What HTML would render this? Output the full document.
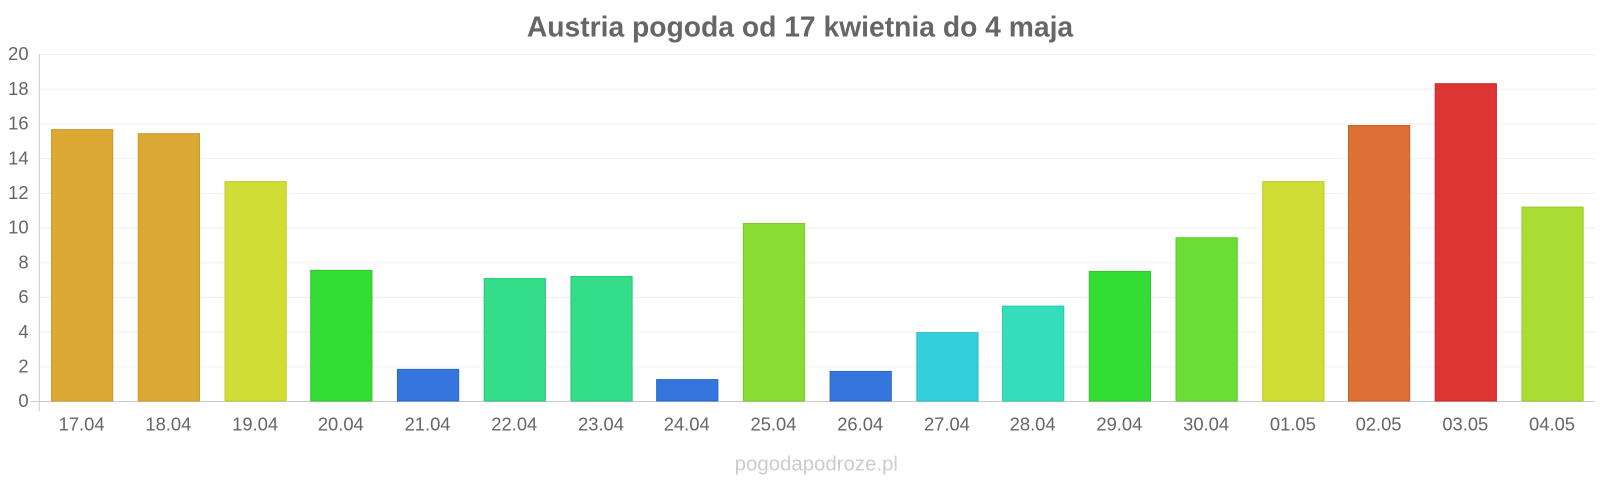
<!DOCTYPE html>
<html><head><meta charset="utf-8"><style>
body{margin:0;background:#fff;}
svg text{font-family:"Liberation Sans",sans-serif;}
</style></head><body>
<svg width="1600" height="480" xmlns="http://www.w3.org/2000/svg">
<rect width="1600" height="480" fill="#fff"/>
<g transform="scale(1.0204)">
<text x="784" y="36" text-anchor="middle" font-size="27.7" font-weight="bold" fill="#666">Austria pogoda od 17 kwietnia do 4 maja</text>
<g stroke="#f0f0f0" stroke-width="1">
<line x1="38" x2="1563" y1="53.5" y2="53.5"/>
<line x1="38" x2="1563" y1="87.5" y2="87.5"/>
<line x1="38" x2="1563" y1="121.5" y2="121.5"/>
<line x1="38" x2="1563" y1="155.5" y2="155.5"/>
<line x1="38" x2="1563" y1="189.5" y2="189.5"/>
<line x1="38" x2="1563" y1="223.5" y2="223.5"/>
<line x1="38" x2="1563" y1="257.5" y2="257.5"/>
<line x1="38" x2="1563" y1="291.5" y2="291.5"/>
<line x1="38" x2="1563" y1="325.5" y2="325.5"/>
<line x1="38" x2="1563" y1="359.5" y2="359.5"/>
</g>
<line x1="38.5" x2="38.5" y1="53" y2="403" stroke="#ccc"/>
<line x1="30" x2="1563" y1="393.5" y2="393.5" stroke="#ccc"/>
<g font-size="18" fill="#666" text-anchor="end">
<text x="28" y="59">20</text><text x="28" y="93">18</text><text x="28" y="127">16</text>
<text x="28" y="161">14</text><text x="28" y="195">12</text><text x="28" y="229">10</text>
<text x="28" y="263">8</text><text x="28" y="297">6</text><text x="28" y="331">4</text>
<text x="28" y="365">2</text><text x="28" y="399">0</text>
</g>
<g stroke-width="1">
<rect x="50.5" y="127" width="60" height="266" fill="#dca934" stroke="#c99a2c"/>
<rect x="135.5" y="131" width="60" height="262" fill="#dca934" stroke="#c99a2c"/>
<rect x="220.5" y="178" width="60" height="215" fill="#cfdd34" stroke="#bccb2c"/>
<rect x="304.5" y="265" width="60" height="128" fill="#34dd34" stroke="#2cc82c"/>
<rect x="389.5" y="362" width="60" height="31" fill="#3476dd" stroke="#2c68c8"/>
<rect x="474.5" y="273" width="60" height="120" fill="#34dd8a" stroke="#2cc87b"/>
<rect x="559.5" y="271" width="60" height="122" fill="#34dd8a" stroke="#2cc87b"/>
<rect x="643.5" y="372" width="60" height="21" fill="#3476dd" stroke="#2c68c8"/>
<rect x="728.5" y="219" width="60" height="174" fill="#8add34" stroke="#7bc82c"/>
<rect x="813.5" y="364" width="60" height="29" fill="#3476dd" stroke="#2c68c8"/>
<rect x="898.5" y="326" width="60" height="67" fill="#34cfdd" stroke="#2cbbc8"/>
<rect x="982.5" y="300" width="60" height="93" fill="#34ddbb" stroke="#2cc8a8"/>
<rect x="1067.5" y="266" width="60" height="127" fill="#34dd34" stroke="#2cc82c"/>
<rect x="1152.5" y="233" width="60" height="160" fill="#6ade34" stroke="#5cc82c"/>
<rect x="1237.5" y="178" width="60" height="215" fill="#cfdd34" stroke="#bccb2c"/>
<rect x="1321.5" y="123" width="60" height="270" fill="#dd7034" stroke="#c8622c"/>
<rect x="1406.5" y="82" width="60" height="311" fill="#dd3434" stroke="#c82c2c"/>
<rect x="1491.5" y="203" width="60" height="190" fill="#aadd34" stroke="#99c82c"/>
</g>
<g font-size="18" fill="#666" text-anchor="middle">
<text x="80" y="422">17.04</text><text x="165" y="422">18.04</text><text x="250" y="422">19.04</text>
<text x="334" y="422">20.04</text><text x="419" y="422">21.04</text><text x="504" y="422">22.04</text>
<text x="589" y="422">23.04</text><text x="673" y="422">24.04</text><text x="758" y="422">25.04</text>
<text x="843" y="422">26.04</text><text x="928" y="422">27.04</text><text x="1012" y="422">28.04</text>
<text x="1097" y="422">29.04</text><text x="1182" y="422">30.04</text><text x="1267" y="422">01.05</text>
<text x="1351" y="422">02.05</text><text x="1436" y="422">03.05</text><text x="1521" y="422">04.05</text>
</g>
<text x="800" y="461" text-anchor="middle" font-size="20" fill="#ccc">pogodapodroze.pl</text>
</g>
</svg>
</body></html>
